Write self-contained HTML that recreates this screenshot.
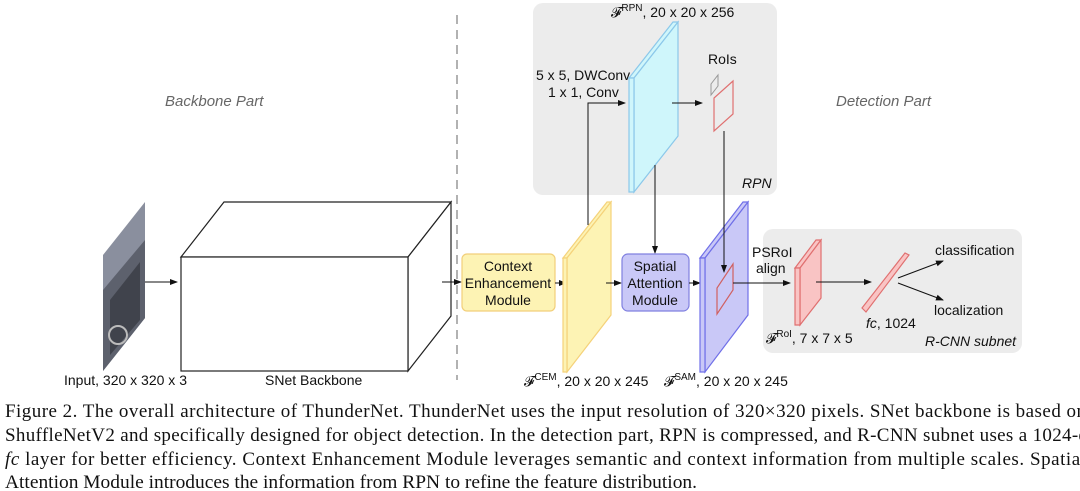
<!DOCTYPE html>
<html><head><meta charset="utf-8"><style>
html,body{margin:0;padding:0;background:#fff;}
svg{display:block}
.s{font-family:"Liberation Sans",sans-serif;font-size:14px;fill:#111}
.i{font-family:"Liberation Sans",sans-serif;font-size:15px;font-style:italic;fill:#666}
.c{font-family:"Liberation Serif",serif;font-size:19px;fill:#111}
</style></head><body>
<svg width="1080" height="491" viewBox="0 0 1080 491" xmlns="http://www.w3.org/2000/svg">
<defs><marker id="a" markerWidth="8" markerHeight="8" refX="7" refY="4" orient="auto" markerUnits="userSpaceOnUse"><path d="M0,1 L8,4 L0,7 z" fill="#111"/></marker></defs>
<rect x="533" y="3" width="244" height="192" rx="10" fill="#ececec"/>
<rect x="763" y="229" width="259" height="124" rx="10" fill="#ececec"/>
<line x1="457" y1="15" x2="457" y2="380" stroke="#999" stroke-width="1.5" stroke-dasharray="9,6"/>
<text class="i" x="165" y="106">Backbone Part</text>
<text class="i" x="836" y="106">Detection Part</text>
<!-- input image -->
<polygon points="103,255 145,202 145,318 103,371" fill="#8a8f9e"/>
<polygon points="103,290 145,240 145,318 103,371" fill="#5d616d"/>
<polygon points="110,300 140,262 140,320 110,355" fill="#3a3c44" opacity=".8"/>
<circle cx="118" cy="335" r="9" fill="none" stroke="#bbb" stroke-width="2"/>
<line x1="145" y1="282" x2="177" y2="282" stroke="#111" marker-end="url(#a)"/>
<text class="s" x="64" y="385">Input, 320 x 320 x 3</text>
<g fill="#fff" stroke="#222" stroke-width="1.2">
<polygon points="181,257 224,202 451,202 408,257"/>
<polygon points="408,257 451,202 451,316 408,371"/>
<rect x="181" y="257" width="227" height="114"/>
</g>
<text class="s" x="265" y="385">SNet Backbone</text>
<line x1="442" y1="282" x2="461" y2="282" stroke="#111" marker-end="url(#a)"/>
<rect x="462" y="254" width="93" height="57" rx="5" fill="#fdf3b4" stroke="#f2cf7a" stroke-width="1.2"/>
<text class="s" x="508" y="271" text-anchor="middle">Context</text>
<text class="s" x="508" y="288" text-anchor="middle">Enhancement</text>
<text class="s" x="508" y="305" text-anchor="middle">Module</text>
<line x1="555" y1="283" x2="566" y2="283" stroke="#111" marker-end="url(#a)"/>
<g fill="#fdf3b4" stroke="#f5d27a" stroke-width="1.2">
<polygon points="563,258 607,202 611,202 567,258"/>
<polygon points="567,258 611,202 611,315 567,372"/>
<polygon points="563,258 567,258 567,372 563,372"/>
</g>
<text class="s" x="524" y="386">𝓕<tspan font-size="10" dy="-6">CEM</tspan><tspan dy="6">, 20 x 20 x 245</tspan></text>
<polyline points="588,225 588,103 625,103" fill="none" stroke="#111" marker-end="url(#a)"/>
<text class="s" x="536" y="80">5 x 5, DWConv</text>
<text class="s" x="548" y="97">1 x 1, Conv</text>
<g fill="#cff6fb" stroke="#8cc8ea" stroke-width="1.2">
<polygon points="629,78 673,22 678,22 634,78"/>
<polygon points="634,78 678,22 678,136 634,192"/>
<polygon points="629,78 634,78 634,192 629,192"/>
</g>
<text class="s" x="611" y="17">𝓕<tspan font-size="10" dy="-6">RPN</tspan><tspan dy="6">, 20 x 20 x 256</tspan></text>
<line x1="672" y1="103" x2="702" y2="103" stroke="#111" marker-end="url(#a)"/>
<text class="s" x="708" y="64">RoIs</text>
<polygon points="711,95 711,84 718,75 718,86" fill="none" stroke="#999"/>
<polygon points="714,131 714,98 733,81 733,114" fill="none" stroke="#e07070" stroke-width="1.2"/>
<text class="i" x="742" y="188" style="fill:#111;font-size:14px">RPN</text>
<line x1="655" y1="165" x2="655" y2="253" stroke="#111" marker-end="url(#a)"/>
<line x1="606" y1="283" x2="621" y2="283" stroke="#111" marker-end="url(#a)"/>
<rect x="622" y="254" width="67" height="57" rx="6" fill="#c9c8f7" stroke="#8080e0" stroke-width="1.2"/>
<text class="s" x="655" y="271" text-anchor="middle">Spatial</text>
<text class="s" x="655" y="288" text-anchor="middle">Attention</text>
<text class="s" x="655" y="305" text-anchor="middle">Module</text>
<line x1="689" y1="283" x2="700" y2="283" stroke="#111" marker-end="url(#a)"/>
<g fill="#c9c8f7" stroke="#7070e8" stroke-width="1.2">
<polygon points="700,258 743,202 748,202 705,258"/>
<polygon points="705,258 748,202 748,315 705,372"/>
<polygon points="700,258 705,258 705,372 700,372"/>
</g>
<polygon points="717,314 717,288 733,264 733,290" fill="none" stroke="#d06060" stroke-width="1.2"/>
<line x1="724" y1="131" x2="724" y2="272" stroke="#111" marker-end="url(#a)"/>
<text class="s" x="664" y="386">𝓕<tspan font-size="10" dy="-6">SAM</tspan><tspan dy="6">, 20 x 20 x 245</tspan></text>
<line x1="733" y1="283" x2="790" y2="283" stroke="#111" marker-end="url(#a)"/>
<text class="s" x="752" y="257">PSRoI</text>
<text class="s" x="756" y="273">align</text>
<g fill="#f9c4c4" stroke="#e07070" stroke-width="1.2">
<polygon points="795,268 816,240 821,240 800,268"/>
<polygon points="800,268 821,240 821,298 800,325"/>
<polygon points="795,268 800,268 800,325 795,325"/>
</g>
<text class="s" x="766" y="343">𝓕<tspan font-size="10" dy="-6">RoI</tspan><tspan dy="6">, 7 x 7 x 5</tspan></text>
<line x1="816" y1="282" x2="871" y2="282" stroke="#111" marker-end="url(#a)"/>
<polygon points="862,308 905,253 909,255 866,312" fill="#f9c4c4" stroke="#e07070" stroke-width="1.2"/>
<text class="s" x="866" y="328"><tspan font-style="italic">fc</tspan>, 1024</text>
<line x1="898" y1="278" x2="943" y2="261" stroke="#111" marker-end="url(#a)"/>
<line x1="898" y1="283" x2="943" y2="300" stroke="#111" marker-end="url(#a)"/>
<text class="s" x="935" y="255">classification</text>
<text class="s" x="934" y="315">localization</text>
<text class="i" x="925" y="346" style="fill:#111;font-size:14px">R-CNN subnet</text>
<text class="c" x="5" y="417" textLength="1081" lengthAdjust="spacing">Figure 2.  The overall architecture of ThunderNet. ThunderNet uses the input resolution of 320×320 pixels. SNet backbone is based on</text>
<text class="c" x="5" y="441" textLength="1083" lengthAdjust="spacing">ShuffleNetV2 and specifically designed for object detection. In the detection part, RPN is compressed, and R-CNN subnet uses a 1024-d</text>
<text class="c" x="5" y="465" textLength="1081" lengthAdjust="spacing"><tspan font-style="italic">fc</tspan> layer for better efficiency.  Context Enhancement Module leverages semantic and context information from multiple scales.  Spatial</text>
<text class="c" x="5" y="488" textLength="692" lengthAdjust="spacingAndGlyphs">Attention Module introduces the information from RPN to refine the feature distribution.</text>
</svg>
</body></html>
